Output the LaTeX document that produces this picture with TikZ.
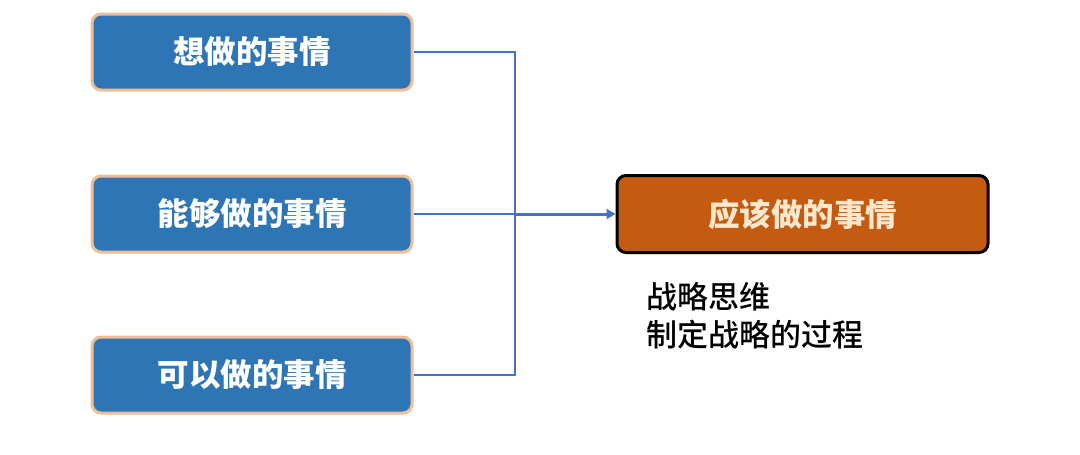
\documentclass[tikz,border=0pt]{standalone}
\usepackage{fontspec}
\setmainfont{Noto Sans CJK SC}
\newfontfamily\notefont{Noto Sans CJK SC Medium}
\usetikzlibrary{arrows.meta,positioning}

\definecolor{boxblue}{HTML}{2E75B6}
\definecolor{boxtan}{HTML}{EDBE9A}
\definecolor{boxorange}{HTML}{C55A11}
\definecolor{linkblue}{HTML}{4472C4}
\definecolor{textcream}{HTML}{FBE8CF}

\begin{document}
\begin{tikzpicture}[x=1pt,y=-1pt]
  \tikzset{
    option/.style={
      draw=boxtan,
      fill=boxblue,
      line width=3pt,
      rounded corners=9pt,
      minimum width=320pt,
      minimum height=76pt,
      inner sep=0pt,
      text=white,
      font=\fontsize{31.5}{36}\selectfont\bfseries
    },
    result/.style={
      draw=black,
      fill=boxorange,
      line width=3pt,
      rounded corners=9pt,
      minimum width=371pt,
      minimum height=77pt,
      inner sep=0pt,
      text=textcream,
      font=\fontsize{31.5}{36}\selectfont\bfseries
    },
    link/.style={
      draw=linkblue,
      line width=2pt
    }
  }
  \useasboundingbox (0,0) rectangle (1080,455);

  \node[option] (want) at (252,52) {想做的事情};
  \node[option] (can) at (252,214) {能够做的事情};
  \node[option] (may) at (252,375) {可以做的事情};
  \node[result] (should) at (802.5,214) {应该做的事情};
  \node[anchor=north west, align=left, inner sep=0pt,
        font=\fontsize{31}{38}\selectfont\notefont] (note) at (646,282)
    {战略思维\\制定战略的过程};

  \coordinate (junc) at (515,214);

  \draw[link]
  (want.east) -| (junc)
  (may.east) -| (junc)
  (can.east) -- (junc);
  \draw[link, line width=3pt, -{Triangle[length=9pt,width=10pt]}]
  (junc) -- (should.west);

\end{tikzpicture}
\end{document}
